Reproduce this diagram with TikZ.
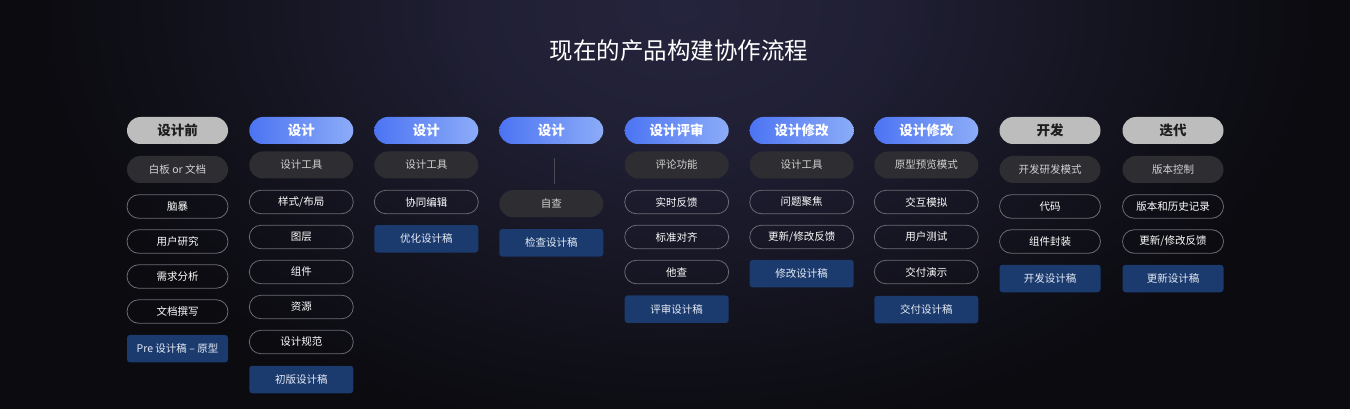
\documentclass[tikz,border=0pt]{standalone}
\usepackage{fontspec}
\setmainfont{Noto Sans CJK SC}
\definecolor{bg}{HTML}{0B0B10}
\definecolor{glow}{HTML}{25243D}
\definecolor{hb1}{HTML}{4C74F3}
\definecolor{hb2}{HTML}{8CACF8}
\definecolor{hg}{HTML}{BDBDBD}
\definecolor{hgtext}{HTML}{1E1E1E}
\definecolor{gi}{HTML}{2E2E32}
\definecolor{gitext}{HTML}{D2D2D2}
\definecolor{ol}{HTML}{6A6A72}
\definecolor{bi}{HTML}{1B3A6D}
\definecolor{bitext}{HTML}{E6ECF6}
\definecolor{vl}{HTML}{4A4A52}
\pgfdeclareradialshading{bgglow}{\pgfpoint{0bp}{0bp}}{color(0bp)=(glow); color(8bp)=(glow!80!bg); color(16bp)=(glow!40!bg); color(25bp)=(bg); color(50bp)=(bg)}
\newcommand{\hdrfont}{\fontsize{13.5}{16}\selectfont\bfseries}
\newcommand{\itemfont}{\fontsize{10.5}{12}\selectfont}
\newcommand{\titlefont}{\fontsize{23.5}{28}\selectfont}
\begin{document}
\begin{tikzpicture}[x=1pt,y=-1pt,
  base/.style={inner sep=0pt, outer sep=0pt, minimum width=104pt},
  narrow/.style={minimum width=101pt},
  hdrblue/.style={base, minimum height=27pt, rounded corners=13.5pt, left color=hb1, right color=hb2, text=white, font=\hdrfont},
  hdrgray/.style={base, minimum height=27pt, rounded corners=13.5pt, fill=hg, text=hgtext, font=\hdrfont},
  grayitem/.style={base, minimum height=27pt, rounded corners=13.5pt, fill=gi, text=gitext, font=\itemfont},
  outitem/.style={base, minimum height=23.5pt, rounded corners=11.75pt, draw=ol, line width=0.8pt, text=white, font=\itemfont},
  blueitem/.style={base, minimum height=27.5pt, rounded corners=3pt, fill=bi, text=bitext, font=\itemfont},
  vline/.style={draw=vl, line width=1pt}
]
\useasboundingbox (0,0) rectangle (1350,409);
\fill[bg] (0,0) rectangle (1350,409);
\begin{scope}
\clip (0,0) rectangle (1350,409);
\shade[shading=bgglow] (678,10) ellipse (640 and 430);
\end{scope}

\node[text=white, font=\titlefont] (title) at (679,51) {现在的产品构建协作流程};

% column 1
\node[hdrgray, narrow] (c1h) at (177.5,130.5) {设计前};
\node[grayitem, narrow] (c1a) at (177.5,169.5) {白板 or 文档};
\node[outitem, narrow] (c1b) at (177.5,206.5) {脑暴};
\node[outitem, narrow] (c1c) at (177.5,241.5) {用户研究};
\node[outitem, narrow] (c1d) at (177.5,276.5) {需求分析};
\node[outitem, narrow] (c1e) at (177.5,311.5) {文档撰写};
\node[blueitem, narrow] (c1f) at (177.5,348.7) {Pre 设计稿 – 原型};

% column 2
\node[hdrblue] (c2h) at (301.3,130.5) {设计};
\node[grayitem] (c2a) at (301.3,165) {设计工具};
\node[outitem] (c2b) at (301.3,202) {样式/布局};
\node[outitem] (c2c) at (301.3,237) {图层};
\node[outitem] (c2d) at (301.3,272) {组件};
\node[outitem] (c2e) at (301.3,307) {资源};
\node[outitem] (c2f) at (301.3,342) {设计规范};
\node[blueitem] (c2g) at (301.3,379.5) {初版设计稿};

% column 3
\node[hdrblue] (c3h) at (426.3,130.5) {设计};
\node[grayitem] (c3a) at (426.3,165) {设计工具};
\node[outitem] (c3b) at (426.3,202) {协同编辑};
\node[blueitem] (c3c) at (426.3,238.8) {优化设计稿};

% column 4
\node[hdrblue] (c4h) at (551.3,130.5) {设计};
\node[grayitem] (c4a) at (551.3,203.7) {自查};
\node[blueitem] (c4b) at (551.3,242.8) {检查设计稿};
\draw[vline] ([xshift=3pt,yshift=-14pt]c4h.south) -- ([xshift=3pt,yshift=6pt]c4a.north);

% column 5
\node[hdrblue] (c5h) at (676.7,130.5) {设计评审};
\node[grayitem] (c5a) at (676.7,165) {评论功能};
\node[outitem] (c5b) at (676.7,202) {实时反馈};
\node[outitem] (c5c) at (676.7,237) {标准对齐};
\node[outitem] (c5d) at (676.7,272) {他查};
\node[blueitem] (c5e) at (676.7,309.2) {评审设计稿};

% column 6
\node[hdrblue] (c6h) at (801.7,130.5) {设计修改};
\node[grayitem] (c6a) at (801.7,165) {设计工具};
\node[outitem] (c6b) at (801.7,202) {问题聚焦};
\node[outitem] (c6c) at (801.7,237) {更新/修改反馈};
\node[blueitem] (c6d) at (801.7,273.7) {修改设计稿};

% column 7
\node[hdrblue] (c7h) at (926.3,130.5) {设计修改};
\node[grayitem] (c7a) at (926.3,165) {原型预览模式};
\node[outitem] (c7b) at (926.3,202) {交互模拟};
\node[outitem] (c7c) at (926.3,237) {用户测试};
\node[outitem] (c7d) at (926.3,272) {交付演示};
\node[blueitem] (c7e) at (926.3,309.5) {交付设计稿};

% column 8
\node[hdrgray, narrow] (c8h) at (1050,130.5) {开发};
\node[grayitem, narrow] (c8a) at (1050,169.5) {开发研发模式};
\node[outitem, narrow] (c8b) at (1050,206.5) {代码};
\node[outitem, narrow] (c8c) at (1050,241.5) {组件封装};
\node[blueitem, narrow] (c8d) at (1050,278.5) {开发设计稿};

% column 9
\node[hdrgray, narrow] (c9h) at (1173,130.5) {迭代};
\node[grayitem, narrow] (c9a) at (1173,169.5) {版本控制};
\node[outitem, narrow] (c9b) at (1173,206.5) {版本和历史记录};
\node[outitem, narrow] (c9c) at (1173,241.5) {更新/修改反馈};
\node[blueitem, narrow] (c9d) at (1173,278.5) {更新设计稿};
\end{tikzpicture}
\end{document}
